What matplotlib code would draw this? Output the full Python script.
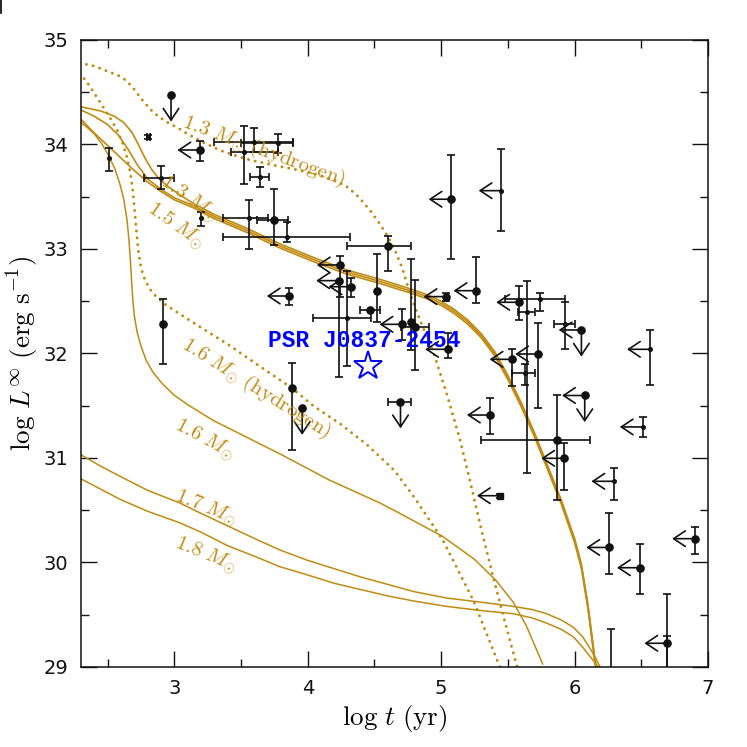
import numpy as np
import matplotlib
matplotlib.use('Agg')
import matplotlib.pyplot as plt
from matplotlib.lines import Line2D

nan = np.nan

# ---------------- observed neutron stars ----------------
obs_logt = [2.512, 2.805, 2.900, 3.200, 3.525, 3.600, 3.775, 3.645, 3.563, 3.750,
            3.842, 4.600, 4.238, 4.233, 4.296, 4.326, 4.518, 4.470, 4.708, 4.770,
            4.800, 5.038, 5.050, 5.076, 5.451, 5.263, 5.583, 5.738, 5.643, 5.926,
            6.051, 5.725, 5.533, 5.626, 5.871, 6.076, 6.509, 5.920, 6.296, 6.563,
            5.363, 4.695, 5.438, 6.258, 6.488, 6.901, 6.693, 6.276, 6.693, 2.912,
            3.863, 3.883, 3.958, 2.975, 3.193]
obs_logL = [33.868, 34.072, 33.682, 33.294, 33.925, 34.021, 34.012, 33.692, 33.294, 33.278,
            33.118, 33.032, 32.847, 32.697, 32.337, 32.639, 32.601, 32.416, 32.279, 32.299,
            32.251, 32.544, 32.040, 33.476, 33.558, 32.601, 32.490, 32.522, 32.394, 32.282,
            32.225, 31.995, 31.944, 31.811, 31.172, 31.598, 31.297, 30.997, 30.777, 32.040,
            31.411, 31.539, 30.639, 30.144, 29.950, 30.228, 29.227, 28.800, 28.800, 32.279,
            32.550, 31.673, 31.476, 34.474, 33.947]
obs_logt_lo = [nan, 2.792, 2.770, nan, 3.425, 3.295, 3.500, 3.568, 3.368, 3.620,
               3.368, 4.296, nan, nan, 4.038, nan, nan, 4.395, nan, nan,
               4.700, nan, nan, nan, nan, nan, nan, 5.476, 5.575, 5.843,
               nan, nan, nan, 5.533, 5.301, nan, nan, nan, nan, nan,
               nan, 4.600, nan, nan, nan, nan, nan, nan, nan, nan,
               nan, nan, nan, nan, nan]
obs_logt_hi = [nan, 2.818, 3.000, nan, 3.775, 3.887, 3.887, 3.713, 3.700, 3.850,
               4.318, 4.776, nan, nan, 4.476, nan, nan, 4.538, nan, nan,
               4.908, nan, nan, nan, nan, nan, nan, 5.926, 5.701, 6.001,
               nan, nan, nan, 5.701, 6.113, nan, nan, nan, nan, nan,
               nan, 4.776, nan, nan, nan, nan, nan, nan, nan, nan,
               nan, nan, nan, nan, nan]
obs_logL_lo = [33.746, 34.056, 33.574, 33.223, 33.619, 33.925, 33.916, 33.590, 33.000, 33.038,
               33.064, 32.792, 32.544, 31.778, 31.883, 32.544, 32.304, nan, 32.129, 32.033,
               31.842, 32.505, 31.954, 32.901, 33.172, 32.480, 32.321, 32.407, 30.854, 32.040,
               nan, 31.476, 31.689, 31.699, 30.598, nan, 31.204, 30.694, 30.598, 31.699,
               31.230, nan, 30.620, 29.890, 29.696, 30.078, 28.800, nan, nan, 31.900,
               32.464, 31.077, nan, nan, 33.842]
obs_logL_hi = [33.964, 34.088, 33.797, 33.357, 34.180, 34.161, 34.100, 33.788, 33.469, 33.574,
               33.256, 33.127, 32.933, nan, 32.792, 32.720, 32.949, nan, 32.423, 32.901,
               32.703, 32.579, 32.193, 33.900, 33.954, 32.923, 32.649, 32.576, 32.697, 32.496,
               nan, 32.295, 32.040, 31.900, 31.603, nan, 31.395, 31.146, 30.901, 32.225,
               31.577, nan, 30.660, 30.477, 30.174, 30.343, 29.696, 29.361, 29.300, 32.522,
               32.630, 31.912, nan, nan, 34.033]
obs_marker = ['small', 'small', 'small', 'small', 'small', 'small', 'small', 'small', 'small', 'big',
              'small', 'big', 'big', 'big', 'small', 'big', 'big', 'big', 'big', 'big',
              'big', 'big', 'big', 'big', 'small', 'big', 'big', 'small', 'small', 'small',
              'big', 'big', 'big', 'small', 'big', 'big', 'small', 'big', 'small', 'small',
              'big', 'big', 'square', 'big', 'big', 'big', 'big', 'none', 'none', 'big',
              'big', 'big', 'big', 'big', 'big']
obs_age_limit = [0, 0, 0, 0, 0, 0, 0, 0, 0, 0,
                 0, 0, 1, 1, 0, 1, 0, 0, 1, 0,
                 0, 1, 1, 1, 1, 1, 1, 0, 0, 0,
                 1, 1, 1, 0, 0, 1, 1, 1, 1, 1,
                 1, 0, 1, 1, 1, 1, 1, 0, 0, 0,
                 1, 0, 0, 0, 1]
obs_lum_limit = [0, 0, 0, 0, 0, 0, 0, 0, 0, 0,
                 0, 0, 0, 0, 0, 0, 0, 0, 0, 0,
                 0, 0, 0, 0, 0, 0, 0, 0, 0, 0,
                 1, 0, 0, 0, 0, 1, 0, 0, 0, 0,
                 0, 1, 0, 0, 0, 0, 0, 0, 0, 0,
                 0, 0, 1, 1, 0]

# ---------------- PSR J0837-2454 ----------------
psr_name = 'PSR J0837-2454'
psr_logt = 4.455
psr_logL = 31.88

# ---------------- cooling curves ----------------
c13_t = [2.30, 2.45, 2.55, 2.62, 2.68, 2.73, 2.78, 2.83, 2.88, 2.95, 3.05, 3.15, 3.30,
         3.54, 3.79, 4.04, 4.29, 4.54, 4.79, 4.90, 5.00, 5.10, 5.20, 5.30, 5.40, 5.50,
         5.60, 5.70, 5.80, 5.90, 6.00, 6.05, 6.10, 6.15, 6.18]
c13_L = [34.36, 34.32, 34.27, 34.21, 34.12, 34.00, 33.87, 33.76, 33.68, 33.60, 33.51, 33.43, 33.33,
         33.20, 33.05, 32.92, 32.80, 32.71, 32.61, 32.56, 32.50, 32.42, 32.32, 32.19, 32.02, 31.79,
         31.53, 31.24, 30.92, 30.60, 30.23, 29.99, 29.60, 29.10, 28.85]
c14_t = [2.30, 2.40, 2.50, 2.58, 2.65, 2.72, 2.80, 2.90, 3.00, 3.15, 3.30,
         3.54, 3.79, 4.04, 4.29, 4.54, 4.79, 4.90, 5.00, 5.10, 5.20, 5.30, 5.40, 5.50,
         5.60, 5.70, 5.80, 5.90, 6.00, 6.05, 6.10, 6.15, 6.18]
c14_L = [34.33, 34.27, 34.19, 34.09, 33.96, 33.81, 33.67, 33.57, 33.49, 33.41, 33.31,
         33.18, 33.03, 32.90, 32.78, 32.69, 32.59, 32.54, 32.48, 32.40, 32.30, 32.17, 32.00, 31.77,
         31.51, 31.22, 30.90, 30.58, 30.21, 29.97, 29.58, 29.08, 28.85]
c15_t = [2.30, 2.40, 2.50, 2.60, 2.70, 2.80, 2.90, 3.00, 3.15, 3.30,
         3.54, 3.79, 4.04, 4.29, 4.54, 4.79, 4.90, 5.00, 5.10, 5.20, 5.30, 5.40, 5.50,
         5.60, 5.70, 5.80, 5.90, 6.00, 6.05, 6.10, 6.15, 6.18]
c15_L = [34.24, 34.11, 33.99, 33.87, 33.75, 33.64, 33.55, 33.47, 33.39, 33.29,
         33.16, 33.01, 32.88, 32.76, 32.67, 32.57, 32.52, 32.46, 32.38, 32.28, 32.15, 31.98, 31.75,
         31.49, 31.20, 30.88, 30.56, 30.19, 29.95, 29.56, 29.06, 28.85]
c16_t = [2.29, 2.35, 2.40, 2.45, 2.50, 2.55, 2.59, 2.62, 2.645, 2.66, 2.67, 2.68, 2.69, 2.70,
         2.72, 2.75, 2.79, 2.84, 2.91, 3.00, 3.10, 3.29, 3.54, 3.79, 4.16, 4.54, 4.69, 5.01,
         5.25, 5.41, 5.54, 5.64, 5.76]
c16_L = [34.22, 34.16, 34.10, 34.02, 33.91, 33.78, 33.63, 33.48, 33.28, 33.08, 32.90, 32.68, 32.49, 32.36,
         32.21, 32.07, 31.93, 31.82, 31.71, 31.60, 31.51, 31.36, 31.20, 31.04, 30.79, 30.57, 30.47, 30.25,
         30.03, 29.83, 29.62, 29.39, 29.03]
c17_t = [2.30, 2.45, 2.60, 2.80, 3.04, 3.20, 3.40, 3.60, 3.79, 4.00, 4.20, 4.40, 4.60, 4.80,
         5.04, 5.30, 5.54, 5.68, 5.79, 5.90, 5.99, 6.06, 6.11, 6.16, 6.19]
c17_L = [31.03, 30.92, 30.82, 30.69, 30.57, 30.47, 30.35, 30.23, 30.12, 30.02, 29.94, 29.86, 29.79, 29.72,
         29.66, 29.62, 29.58, 29.55, 29.51, 29.45, 29.38, 29.29, 29.19, 29.08, 29.00]
c18_t = [2.30, 2.45, 2.60, 2.80, 3.04, 3.20, 3.40, 3.60, 3.79, 4.00, 4.20, 4.40, 4.60, 4.80,
         5.04, 5.30, 5.54, 5.68, 5.79, 5.90, 5.99, 6.06, 6.11, 6.16, 6.19]
c18_L = [30.80, 30.70, 30.60, 30.49, 30.38, 30.29, 30.16, 30.06, 29.96, 29.88, 29.80, 29.74, 29.68, 29.63,
         29.58, 29.54, 29.51, 29.47, 29.42, 29.36, 29.29, 29.19, 29.11, 29.03, 28.97]
h13_t = [2.29, 2.40, 2.50, 2.58, 2.63, 2.67, 2.71, 2.75, 2.79, 2.84, 2.89, 2.95, 3.01, 3.10,
         3.20, 3.35, 3.54, 3.75, 3.91, 4.05, 4.20, 4.30, 4.38, 4.46, 4.54, 4.60, 4.65, 4.71,
         4.76, 4.81, 4.86, 4.94, 5.04, 5.14, 5.22, 5.30, 5.39, 5.48, 5.58]
h13_L = [34.78, 34.75, 34.70, 34.66, 34.62, 34.57, 34.51, 34.44, 34.38, 34.31, 34.26, 34.21, 34.17, 34.10,
         34.03, 33.94, 33.86, 33.80, 33.76, 33.72, 33.66, 33.59, 33.50, 33.38, 33.24, 33.12, 33.00, 32.81,
         32.60, 32.42, 32.26, 32.02, 31.62, 31.18, 30.76, 30.32, 29.86, 29.42, 28.95]
h16_t = [2.29, 2.33, 2.37, 2.42, 2.47, 2.52, 2.57, 2.61, 2.64, 2.665, 2.685, 2.70, 2.715, 2.73,
         2.75, 2.78, 2.82, 2.86, 2.92, 2.99, 3.16, 3.41, 3.66, 3.88, 4.04, 4.25, 4.45, 4.65,
         4.80, 5.01, 5.24, 5.44]
h16_L = [34.68, 34.62, 34.55, 34.45, 34.35, 34.25, 34.14, 34.02, 33.90, 33.76, 33.60, 33.40, 33.18, 32.98,
         32.82, 32.70, 32.61, 32.55, 32.48, 32.42, 32.28, 32.08, 31.86, 31.67, 31.50, 31.32, 31.12, 30.88,
         30.62, 30.22, 29.64, 29.00]

curve_labels = [r'$1.3\ M_{\odot}\ \mathrm{(hydrogen)}$', r'$1.3\ M_{\odot}$', r'$1.5\ M_{\odot}$',
                r'$1.6\ M_{\odot}\ \mathrm{(hydrogen)}$', r'$1.6\ M_{\odot}$',
                r'$1.7\ M_{\odot}$', r'$1.8\ M_{\odot}$']
label_t = [3.668, 3.11, 3.006, 3.613, 3.225, 3.233, 3.233]
label_L = [33.94, 33.48, 33.217, 31.665, 31.172, 30.52, 30.07]
label_rot = [-20, -35, -35, -32, -28, -22, -22]

# ---------------- style ----------------
GOLD = '#C08B12'
INK = '#111111'
ARROW_DT = 0.17
ARROW_DL = 0.255

plt.rcParams['mathtext.fontset'] = 'cm'
plt.rcParams['font.family'] = ['DejaVu Sans']

fig = plt.figure(figsize=(7.47, 7.47), dpi=100)
ax = fig.add_axes([0.1084, 0.1071, 0.8394, 0.8394])
ax.set_xlim(2.3, 7.0)
ax.set_ylim(29, 35)

# cooling curves
for tt, LL in [(c13_t, c13_L), (c14_t, c14_L), (c15_t, c15_L)]:
    ax.plot(tt, LL, color=GOLD, lw=1.2, zorder=2, solid_joinstyle='round')
for tt, LL in [(c16_t, c16_L), (c17_t, c17_L), (c18_t, c18_L)]:
    ax.plot(tt, LL, color=GOLD, lw=1.1, zorder=2, solid_joinstyle='round')
for tt, LL in [(h13_t, h13_L), (h16_t, h16_L)]:
    ax.plot(tt, LL, color=GOLD, lw=2.1, ls=(0, (0.05, 2.3)), dash_capstyle='round', zorder=2)

for s, xt, yt, r in zip(curve_labels, label_t, label_L, label_rot):
    ax.text(xt, yt, s, color=GOLD, fontsize=15, rotation=r, ha='center', va='center',
            rotation_mode='anchor', zorder=4)

# observations
lw = 1.2
for i in range(len(obs_logt)):
    t, L = obs_logt[i], obs_logL[i]
    tlo, thi = obs_logt_lo[i], obs_logt_hi[i]
    Llo, Lhi = obs_logL_lo[i], obs_logL_hi[i]
    if not (np.isnan(tlo) and np.isnan(thi)):
        a = t if np.isnan(tlo) else tlo
        b = t if np.isnan(thi) else thi
        ax.plot([a, b], [L, L], color=INK, lw=lw, zorder=3, solid_capstyle='butt')
        caps = [v for v in (tlo, thi) if not np.isnan(v)]
        ax.plot(caps, [L] * len(caps), ls='none', marker='|', ms=6, mew=lw, color=INK, zorder=3)
    if not (np.isnan(Llo) and np.isnan(Lhi)):
        a = L if np.isnan(Llo) else Llo
        b = L if np.isnan(Lhi) else Lhi
        ax.plot([t, t], [a, b], color=INK, lw=lw, zorder=3, solid_capstyle='butt')
        caps = [v for v in (Llo, Lhi) if not np.isnan(v)]
        ax.plot([t] * len(caps), caps, ls='none', marker='_', ms=6, mew=lw, color=INK, zorder=3)
    if obs_age_limit[i]:
        ax.annotate('', xy=(t - ARROW_DT, L), xytext=(t, L),
                    arrowprops=dict(arrowstyle='->,head_length=0.6,head_width=0.4', lw=lw, color=INK,
                                    shrinkA=0, shrinkB=0, mutation_scale=14), zorder=3)
    if obs_lum_limit[i]:
        ax.annotate('', xy=(t, L - ARROW_DL), xytext=(t, L),
                    arrowprops=dict(arrowstyle='->,head_length=0.6,head_width=0.4', lw=lw, color=INK,
                                    shrinkA=0, shrinkB=0, mutation_scale=14), zorder=3)
    m = obs_marker[i]
    if m == 'big':
        ax.plot([t], [L], 'o', ms=5.2, color=INK, mec=INK, zorder=4)
    elif m == 'small':
        ax.plot([t], [L], 'o', ms=2.6, color=INK, mec=INK, zorder=4)
    elif m == 'square':
        ax.plot([t], [L], 's', ms=4.0, color=INK, mec=INK, zorder=4)

# PSR J0837-2454
ax.plot([psr_logt], [psr_logL], marker='*', ms=21, mfc='none', mec='#0000FF', mew=1.4, ls='none', zorder=5)
ax.text(4.425, 32.12, psr_name, color='#0000FF', fontsize=16.5, fontweight='bold',
        family=['Liberation Mono', 'DejaVu Sans Mono'], ha='center', va='center', zorder=5)

# axes styling
ax.set_xticks([3, 4, 5, 6, 7])
ax.set_xticks(np.arange(2.5, 7.0, 0.5), minor=True)
ax.set_yticks([29, 30, 31, 32, 33, 34, 35])
ax.set_yticks(np.arange(29.5, 35.0, 1.0), minor=True)
ax.tick_params(which='both', direction='in', top=True, right=True, width=1.0, colors=INK)
ax.tick_params(which='major', length=11.5, labelsize=14, pad=9)
ax.tick_params(which='minor', length=5.8)
for sp in ax.spines.values():
    sp.set_linewidth(1.1)
    sp.set_color(INK)

ax.set_xlabel(r'$\mathrm{log}\ t\ \mathrm{(yr)}$', fontsize=19.5, labelpad=3)
ax.set_ylabel(r'$\mathrm{log}\ L^{\infty}\ \mathrm{(erg\ s^{-1})}$', fontsize=19.5, labelpad=1)

fig.add_artist(Line2D([0.002, 0.002], [1.0, 0.982], color='k', lw=1.2))

fig.savefig('out.png', dpi=100)
